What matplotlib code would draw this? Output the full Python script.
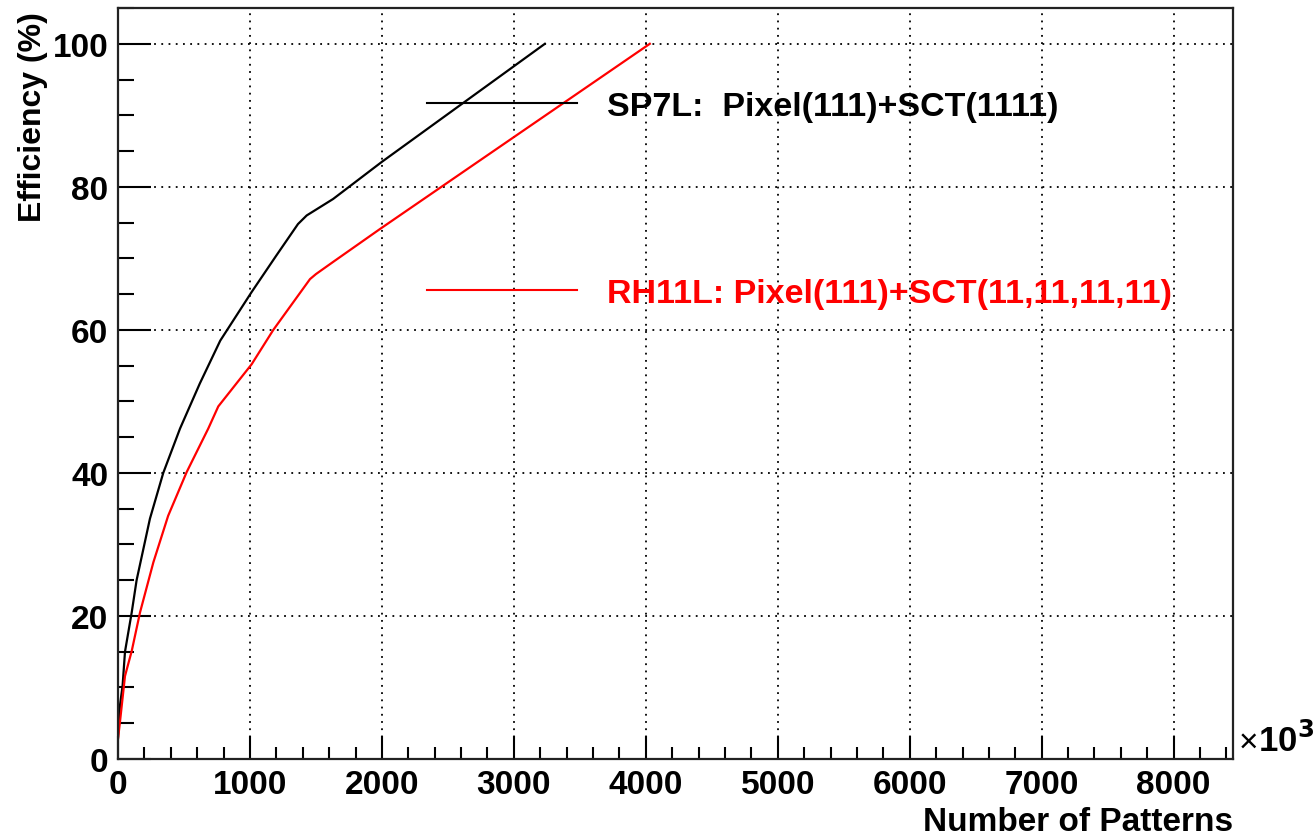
import matplotlib
matplotlib.use("Agg")
import matplotlib.pyplot as plt
from matplotlib.ticker import MultipleLocator

plt.rcParams['font.family'] = ['Liberation Sans', 'DejaVu Sans']
plt.rcParams['font.weight'] = 'bold'

# efficiency vs. number of stored patterns (x in units of 10^3)
sp7l_patterns = [0, 15, 35, 53, 104, 141, 242, 343, 470, 620, 775, 1013, 1200, 1364, 1430, 1630, 2000, 3235]
sp7l_eff = [3.0, 7.5, 10.3, 15.0, 20.5, 25.0, 33.6, 40.0, 46.2, 52.5, 58.5, 65.3, 70.4, 74.8, 76.0, 78.3, 83.5, 100.0]

rh11l_patterns = [0, 15, 53, 104, 167, 268, 380, 520, 684, 760, 1013, 1177, 1455, 1500, 1630, 1985, 4030]
rh11l_eff = [2.8, 5.2, 11.6, 15.1, 20.5, 27.5, 34.0, 40.1, 46.2, 49.3, 55.2, 60.0, 67.1, 67.8, 69.5, 74.1, 100.0]

sp7l_label = 'SP7L:  Pixel(111)+SCT(1111)'
rh11l_label = 'RH11L: Pixel(111)+SCT(11,11,11,11)'

fig = plt.figure(figsize=(13.14, 8.37), dpi=100)
ax = fig.add_axes([0.0898, 0.092, 0.8486, 0.8972])

ax.plot(sp7l_patterns, sp7l_eff, color='black', lw=1.6, label=sp7l_label)
ax.plot(rh11l_patterns, rh11l_eff, color='red', lw=1.6, label=rh11l_label)

ax.set_xlim(0, 8450)
ax.set_ylim(0, 105)

ax.xaxis.set_major_locator(MultipleLocator(1000))
ax.xaxis.set_minor_locator(MultipleLocator(200))
ax.yaxis.set_major_locator(MultipleLocator(20))
ax.yaxis.set_minor_locator(MultipleLocator(5))

ax.tick_params(axis='both', which='both', direction='in', top=False, right=False,
               labelsize=24, width=1.5, color='black')
ax.tick_params(axis='x', which='major', length=16.5, pad=7)
ax.tick_params(axis='x', which='minor', length=8.5)
ax.tick_params(axis='y', which='major', length=24, pad=7)
ax.tick_params(axis='y', which='minor', length=11.5)

for s in ax.spines.values():
    s.set_linewidth(1.6)
    s.set_color('#222222')

ax.grid(True, which='major', color='black', linestyle=(0, (1, 3)), linewidth=1.3)

ax.set_xlabel('Number of Patterns', fontsize=24, fontweight='bold', loc='right')
ax.set_ylabel('Efficiency (%)', fontsize=23, fontweight='bold', loc='top')
ax.xaxis.set_label_coords(1.0, -0.063)
ax.yaxis.set_label_coords(-0.063, 0.996)

ax.annotate('×', xy=(1.0, 0.0), xycoords='axes fraction', xytext=(4, 1),
            textcoords='offset points', fontsize=24, fontweight='normal', ha='left', va='bottom')
ax.annotate('10$^{3}$', xy=(1.0, 0.0), xycoords='axes fraction', xytext=(18, 1),
            textcoords='offset points', fontsize=25, fontweight='bold', ha='left', va='bottom')

leg = ax.legend(loc='upper left', bbox_to_anchor=(0.277, 0.89), frameon=False,
                fontsize=24.5, handlelength=4.4, handletextpad=0.9, labelspacing=4.6,
                labelcolor='linecolor', borderpad=0, borderaxespad=0)
for line in leg.get_lines():
    line.set_linewidth(1.5)

fig.savefig('out.png', dpi=100)
